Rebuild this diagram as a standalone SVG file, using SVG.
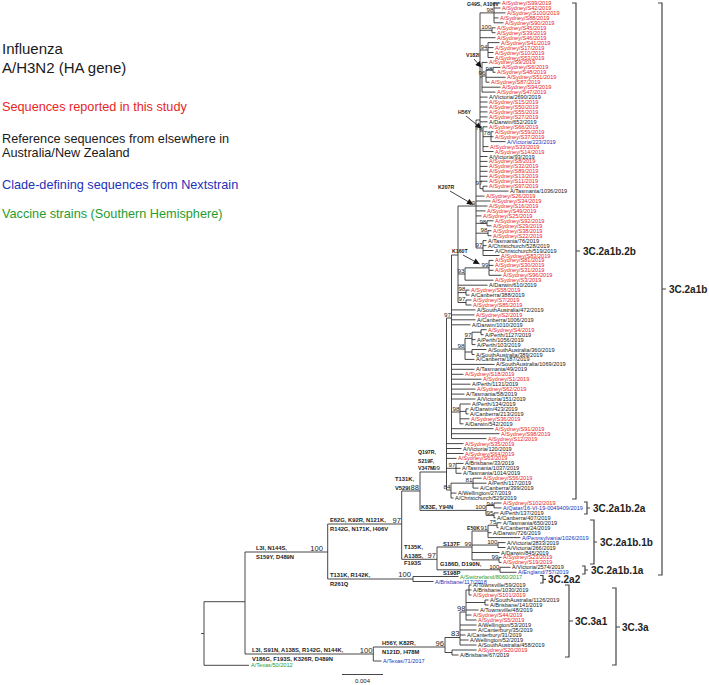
<svg xmlns="http://www.w3.org/2000/svg" width="709" height="685" viewBox="0 0 709 685">
<style>
text{font-family:"Liberation Sans",Arial,sans-serif}
.lf{font-size:5.6px}
.r{fill:#e8251f}.k{fill:#1a1a1a}.b{fill:#2332b8}.g{fill:#1f9c2e}
.bs{font-size:6.2px;text-anchor:end;fill:#222}
.bl{font-size:7.6px;text-anchor:end;fill:#222}
.mu{font-size:5.8px;font-weight:bold;fill:#222}
.ms{font-size:5.2px;font-weight:bold;fill:#222}
.cl{font-size:10px;font-weight:bold;fill:#222}
.tree{fill:none;stroke:#333;stroke-width:0.9}
.br{fill:none;stroke:#444;stroke-width:1.2}
.ar{fill:none;stroke:#111;stroke-width:0.8;marker-end:url(#ah)}
.lg{font-size:12.7px}
</style>
<defs>
<marker id="ah" viewBox="0 0 10 10" refX="10" refY="5" markerWidth="7" markerHeight="6" markerUnits="userSpaceOnUse" orient="auto"><path d="M0 0L10 5L0 10z" fill="#111"/></marker>
</defs>
<rect width="709" height="685" fill="#fff"/>

<g id="legend">
<text x="2" y="54" font-size="15" fill="#1a1a1a">Influenza</text>
<text x="2" y="72.5" font-size="15" fill="#1a1a1a">A/H3N2 (HA gene)</text>
<text class="lg" x="2" y="111" fill="#e8251f">Sequences reported in this study</text>
<text class="lg" x="2" y="142.5" fill="#1a1a1a">Reference sequences from elsewhere in</text>
<text class="lg" x="2" y="157" fill="#1a1a1a">Australia/New Zealand</text>
<text class="lg" x="2" y="189" fill="#2332b8">Clade-defining sequences from Nextstrain</text>
<text class="lg" x="2" y="218" fill="#1f9c2e">Vaccine strains (Southern Hemisphere)</text>
</g>

<g id="connectors" class="tree">
<path d="M494 3V22.8M494 3H500.5M494 8H500.5M494 12.9H505.5M494 17.9H498.5M494 22.8H503.5M492 27.8V32.7M492 27.8H495.5M492 32.7H495.5M488 42.6V57.5M488 42.6H499.5M488 47.6H493.5M488 52.5H493.5M488 57.5H493.5M493 67.4V72.3M493 67.4H500.5M493 72.3H495.5M486 69.85V82.2M486 69.85H493M486 77.3H505.5M486 82.2H489.5M482 62.4V92.1M482 62.4H487.5M482 76H486M482 87.2H500.5M482 92.1H495.5M491 131.7V141.6M491 131.7H493.5M491 136.7H493.5M491 141.6H505.5M483 126.8V151.5M483 126.8H487.5M483 136.65H491M483 146.6H488.5M483 151.5H493.5M483 186.2V191.1M483 186.2H487.5M483 191.1H508.5"/>
<path d="M480 12.9V188.65M480 12.9H494M480 30.25H492M480 37.7H495.5M480 50H488M480 77H482M480 97.1H487.5M480 102H487.5M480 107H487.5M480 111.9H487.5M480 116.9H487.5M480 121.8H487.5M480 131H483M480 156.5H487.5M480 161.4H487.5M480 166.4H487.5M480 171.3H487.5M480 176.3H487.5M480 181.2H487.5M480 188.65H483"/>
<path d="M487 220.8V225.8M487 220.8H493.5M487 225.8H491.5M488 230.7V235.7M488 230.7H491.5M488 235.7H491.5M483 240.6V255.5M483 240.6H486.5M483 245.6H486.5M483 250.5H493.5M483 255.5H499.5M476 120V248M476 120H480M476 196.1H484.5M476 201H490.5M476 206H487.5M476 210.9H485.5M476 215.9H481.5M476 223.3H487M476 233.2H488M476 248H483"/>
<path d="M489 260.4V275.3M489 260.4H493.5M489 265.4H493.5M489 270.3H493.5M489 275.3H501.5M465 267.85V280.2M465 267.85H489M465 280.2H493.5M466 290.1V295.1M466 290.1H469.5M466 295.1H469.5M466 300V305M466 300H471.5M466 305H471.5M458 206V302.5M458 206H476M458 274H465M458 285.2H487.5M458 292.6H466M458 302.5H466"/>
<path d="M481 329.7V334.7M481 329.7H486.5M481 334.7H483.5M472 332.2V344.6M472 332.2H481M472 339.6H475.5M472 344.6H475.5M472 349.5V354.5M472 349.5H486.5M472 354.5H474.5M465 338.4V359.4M465 338.4H472M465 352H472M465 359.4H474.5M466 408.9V413.9M466 408.9H468.5M466 413.9H468.5M460 404V423.8M460 404H470.5M460 411.4H466M460 418.8H469.5M460 423.8H463.5"/>
<path d="M451.5 255V438.6M451.5 255H458M451.5 309.9H475.5M451.5 314.9H474.5M451.5 319.8H475.5M451.5 324.8H470.5M451.5 349H465M451.5 364.4H494.5M451.5 369.3H474.5M451.5 374.3H463.5M451.5 379.2H481.5M451.5 384.2H470.5M451.5 389.1H475.5M451.5 394.1H464.5M451.5 399H475.5M451.5 412H460M451.5 428.7H493.5M451.5 433.7H499.5M451.5 438.6H486.5"/>
<path d="M456 463.4V473.3M456 463.4H463.5M456 468.3H460.5M456 473.3H461.5M473 478.2V488.1M473 478.2H481.5M473 483.2H486.5M473 488.1H478.5M451 483.15V498M451 483.15H473M451 493.1H456.5M451 498H453.5M446.5 318V490M446.5 318H451.5M446.5 443.6H463.5M446.5 448.5H461.5M446.5 453.5H463.5M446.5 458.4H456.5M446.5 468.3H456M446.5 490H451"/>
<path d="M494 503V507.9M494 503H501.5M494 507.9H501.5M494 512.9V517.8M494 512.9H498.5M494 517.8H495.5M486 505.45V515.35M486 505.45H494M486 515.35H494M420 472V510.4M420 472H446.5M420 510.4H486M401.7 491V559.3M401.7 491H420M401.7 559.3H437"/>
<path d="M497 522.8V527.7M497 522.8H501.5M497 527.7H498.5M488 525.25V537.6M488 525.25H497M488 532.7H491.5M488 537.6H520.5M498 542.6V547.5M498 542.6H505.5M498 547.5H505.5M499 557.4V562.4M499 557.4H501.5M499 562.4H501.5M472 531V559.9M472 531H488M472 545.05H498M472 552.5H499.5M472 559.9H499M500 567.3V572.3M500 567.3H510.5M500 572.3H516.5M437 547V569.8M437 547H472M437 569.8H500"/>
<path d="M413 576.5V581.5M413 576.5H458.5M413 581.5H433.5M327.7 524V579M327.7 524H401.7M327.7 579H413M245 552V654M245 552H327.7M245 654H373.3M204 601.7V665.3M204 601.7H245M204 665.3H249M201 633.5H204"/>
<path d="M469 585V595M469 585H471.5M469 590H471.5M469 595H471.5M485 600V605M485 600H488.5M485 605H488.5M466 590V620M466 590H469M466 602.5H485M466 610H478.5M466 615H471.5M466 620H476.5M460 612V645M460 612H466M460 625H476.5M460 630H476.5M460 635H465.5M460 640H468.5M460 645H476.5M452 650V655M452 650H476.5M452 655H458.5M445 637.5V652.5M445 637.5H460M445 652.5H452M373.3 647V661M373.3 647H445M373.3 661H381.5"/>
</g>

<g id="arrows">
<path class="ar" d="M474 59L481.5 67.5"/>
<path class="ar" d="M466 116L481.5 128.5"/>
<path class="ar" d="M450 191L473 204.5"/>
<path class="ar" d="M463 255L479.5 264"/>
</g>

<g id="mutations">
<text class="ms" x="467" y="5.5">G49S, A106V</text>
<text class="ms" x="466" y="57">V182I</text>
<text class="ms" x="458" y="114">H56Y</text>
<text class="ms" x="438" y="189">K207R</text>
<text class="ms" x="452" y="253">K160T</text>
<text class="ms" x="418" y="454">Q197R,</text>
<text class="ms" x="418" y="463">S219F,</text>
<text class="ms" x="418" y="470">V347M</text>
<text class="mu" x="395" y="481">T131K,</text>
<text class="mu" x="395" y="489.5">V529I</text>
<text class="mu" x="421" y="508.5">K83E, Y94N</text>
<text class="mu" x="330" y="522">E62G, K92R, N121K,</text>
<text class="mu" x="330" y="530.5">R142G, N171K, I406V</text>
<text class="ms" x="467" y="529.5">E50K</text>
<text class="mu" x="443" y="545.5">S137F</text>
<text class="mu" x="404" y="549">T135K,</text>
<text class="mu" x="404" y="557.5">A138S,</text>
<text class="mu" x="404" y="565">F193S</text>
<text class="mu" x="440" y="565.5">G186D, D190N,</text>
<text class="mu" x="443" y="574.5">S198P</text>
<text class="mu" x="330" y="577">T131K, R142K,</text>
<text class="mu" x="330" y="585.5">R261Q</text>
<text class="mu" x="256" y="550">L3I, N144S,</text>
<text class="mu" x="256" y="559">S159Y, D489N</text>
<text class="mu" x="382" y="645">H56Y, K82R,</text>
<text class="mu" x="382" y="653.5">N121D, I478M</text>
<text class="mu" x="252" y="651.5">L3I, S91N, A138S, R142G, N144K,</text>
<text class="mu" x="252" y="660.5">V186G, F193S, K326R, D489N</text>
</g>

<g id="support">
<text class="bs" x="493.5" y="12">98</text>
<text class="bs" x="491.5" y="29">100</text>
<text class="bs" x="487.5" y="48.8">94</text>
<text class="bs" x="492.5" y="70.5">98</text>
<text class="bs" x="485.5" y="74.8">96</text>
<text class="bs" x="482.5" y="129.8">73</text>
<text class="bs" x="490.5" y="135.4">78</text>
<text class="bs" x="482.5" y="185">97</text>
<text class="bs" x="475.5" y="204.8">99</text>
<text class="bs" x="486.3" y="224.2">98</text>
<text class="bs" x="487.5" y="232">98</text>
<text class="bs" x="482.5" y="246.8">97</text>
<text class="bs" x="488.5" y="266.6">99</text>
<text class="bs" x="464.5" y="272.8">93</text>
<text class="bs" x="465.5" y="291.4">98</text>
<text class="bs" x="465.5" y="301.3">97</text>
<text class="bs" x="451" y="316.8">97</text>
<text class="bs" x="471.5" y="337.2">97</text>
<text class="bs" x="464.5" y="347.8">98</text>
<text class="bs" x="459.5" y="410.8">98</text>
<text class="bs" x="455.5" y="467">97</text>
<text class="bs" x="440" y="470">99</text>
<text class="bs" x="472.5" y="482">81</text>
<text class="bs" x="450.5" y="488.8">84</text>
<text class="bl" x="419" y="489.8">88</text>
<text class="bs" x="493.5" y="505.5">94</text>
<text class="bs" x="493.5" y="514.8">95</text>
<text class="bs" x="485.5" y="509">100</text>
<text class="bl" x="401" y="522.5">97</text>
<text class="bs" x="487.5" y="529.5">91</text>
<text class="bs" x="496.5" y="524">75</text>
<text class="bs" x="497.5" y="543.8">100</text>
<text class="bs" x="471.5" y="545.5">99</text>
<text class="bl" x="436" y="557.5">97</text>
<text class="bs" x="498.5" y="558.7">99</text>
<text class="bs" x="499.5" y="568.6">100</text>
<text class="bl" x="411" y="577">100</text>
<text class="bl" x="323" y="550.5">100</text>
<text class="bl" x="372.5" y="652.5">100</text>
<text class="bl" x="444" y="645.5">96</text>
<text class="bl" x="459.5" y="636.3">83</text>
<text class="bl" x="465.5" y="610.5">98</text>
</g>

<g id="leaves" class="lf">
<g id="L001"><text class="r" x="502" y="5">A/Sydney/S99/2019</text></g>
<g id="L002"><text class="r" x="502" y="10">A/Sydney/S42/2019</text></g>
<g id="L003"><text class="r" x="507" y="14.9">A/Sydney/S100/2019</text></g>
<g id="L004"><text class="r" x="500" y="19.9">A/Sydney/S88/2019</text></g>
<g id="L005"><text class="r" x="505" y="24.8">A/Sydney/S90/2019</text></g>
<g id="L006"><text class="r" x="497" y="29.8">A/Sydney/S45/2019</text></g>
<g id="L007"><text class="r" x="497" y="34.7">A/Sydney/S39/2019</text></g>
<g id="L008"><text class="r" x="497" y="39.7">A/Sydney/S46/2019</text></g>
<g id="L009"><text class="r" x="501" y="44.6">A/Sydney/S41/2019</text></g>
<g id="L010"><text class="r" x="495" y="49.6">A/Sydney/S17/2019</text></g>
<g id="L011"><text class="r" x="495" y="54.5">A/Sydney/S10/2019</text></g>
<g id="L012"><text class="r" x="495" y="59.5">A/Sydney/S53/2019</text></g>
<g id="L013"><text class="r" x="489" y="64.4">A/Sydney/S9/2019</text></g>
<g id="L014"><text class="r" x="502" y="69.4">A/Sydney/S6/2019</text></g>
<g id="L015"><text class="r" x="497" y="74.3">A/Sydney/S48/2019</text></g>
<g id="L016"><text class="r" x="507" y="79.3">A/Sydney/S51/2019</text></g>
<g id="L017"><text class="r" x="491" y="84.2">A/Sydney/S87/2019</text></g>
<g id="L018"><text class="r" x="502" y="89.2">A/Sydney/S94/2019</text></g>
<g id="L019"><text class="r" x="497" y="94.1">A/Sydney/S47/2019</text></g>
<g id="L020"><text class="k" x="489" y="99.1">A/Victoria/2690/2019</text></g>
<g id="L021"><text class="r" x="489" y="104">A/Sydney/S15/2019</text></g>
<g id="L022"><text class="r" x="489" y="109">A/Sydney/S50/2019</text></g>
<g id="L023"><text class="r" x="489" y="113.9">A/Sydney/S55/2019</text></g>
<g id="L024"><text class="r" x="489" y="118.9">A/Sydney/S27/2019</text></g>
<g id="L025"><text class="k" x="489" y="123.8">A/Darwin/652/2019</text></g>
<g id="L026"><text class="r" x="489" y="128.8">A/Sydney/S66/2019</text></g>
<g id="L027"><text class="r" x="495" y="133.7">A/Sydney/S59/2019</text></g>
<g id="L028"><text class="r" x="495" y="138.7">A/Sydney/S37/2019</text></g>
<g id="L029"><text class="b" x="507" y="143.6">A/Victoria/223/2019</text></g>
<g id="L030"><text class="r" x="490" y="148.6">A/Sydney/S33/2019</text></g>
<g id="L031"><text class="r" x="495" y="153.5">A/Sydney/S14/2019</text></g>
<g id="L032"><text class="k" x="489" y="158.5">A/Victoria/93/2019</text></g>
<g id="L033"><text class="r" x="489" y="163.4">A/Sydney/S8/2019</text></g>
<g id="L034"><text class="r" x="489" y="168.4">A/Sydney/S32/2019</text></g>
<g id="L035"><text class="r" x="489" y="173.3">A/Sydney/S89/2019</text></g>
<g id="L036"><text class="r" x="489" y="178.3">A/Sydney/S13/2019</text></g>
<g id="L037"><text class="r" x="489" y="183.2">A/Sydney/S11/2019</text></g>
<g id="L038"><text class="r" x="489" y="188.2">A/Sydney/S97/2019</text></g>
<g id="L039"><text class="k" x="510" y="193.1">A/Tasmania/1036/2019</text></g>
<g id="L040"><text class="r" x="486" y="198.1">A/Sydney/S26/2019</text></g>
<g id="L041"><text class="r" x="492" y="203">A/Sydney/S34/2019</text></g>
<g id="L042"><text class="r" x="489" y="208">A/Sydney/S16/2019</text></g>
<g id="L043"><text class="r" x="487" y="212.9">A/Sydney/S49/2019</text></g>
<g id="L044"><text class="r" x="483" y="217.9">A/Sydney/S25/2019</text></g>
<g id="L045"><text class="r" x="495" y="222.8">A/Sydney/S92/2019</text></g>
<g id="L046"><text class="r" x="493" y="227.8">A/Sydney/S29/2019</text></g>
<g id="L047"><text class="r" x="493" y="232.7">A/Sydney/S38/2019</text></g>
<g id="L048"><text class="r" x="493" y="237.7">A/Sydney/S22/2019</text></g>
<g id="L049"><text class="k" x="488" y="242.6">A/Tasmania/76/2019</text></g>
<g id="L050"><text class="k" x="488" y="247.6">A/Christchurch/528/2019</text></g>
<g id="L051"><text class="k" x="495" y="252.5">A/Christchurch/519/2019</text></g>
<g id="L052"><text class="r" x="501" y="257.5">A/Sydney/S83/2019</text></g>
<g id="L053"><text class="r" x="495" y="262.4">A/Sydney/S81/2019</text></g>
<g id="L054"><text class="r" x="495" y="267.4">A/Sydney/S30/2019</text></g>
<g id="L055"><text class="r" x="495" y="272.3">A/Sydney/S31/2019</text></g>
<g id="L056"><text class="r" x="503" y="277.3">A/Sydney/S96/2019</text></g>
<g id="L057"><text class="r" x="495" y="282.2">A/Sydney/S3/2019</text></g>
<g id="L058"><text class="k" x="489" y="287.2">A/Darwin/610/2019</text></g>
<g id="L059"><text class="r" x="471" y="292.1">A/Sydney/S58/2019</text></g>
<g id="L060"><text class="k" x="471" y="297.1">A/Canberra/388/2019</text></g>
<g id="L061"><text class="r" x="473" y="302">A/Sydney/S7/2019</text></g>
<g id="L062"><text class="r" x="473" y="307">A/Sydney/S85/2019</text></g>
<g id="L063"><text class="k" x="477" y="311.9">A/SouthAustralia/472/2019</text></g>
<g id="L064"><text class="r" x="476" y="316.9">A/Sydney/S2/2019</text></g>
<g id="L065"><text class="k" x="477" y="321.8">A/Canberra/1006/2019</text></g>
<g id="L066"><text class="k" x="472" y="326.8">A/Darwin/1010/2019</text></g>
<g id="L067"><text class="r" x="488" y="331.7">A/Sydney/S4/2019</text></g>
<g id="L068"><text class="k" x="485" y="336.7">A/Perth/1127/2019</text></g>
<g id="L069"><text class="k" x="477" y="341.6">A/Perth/1056/2019</text></g>
<g id="L070"><text class="k" x="477" y="346.6">A/Perth/103/2019</text></g>
<g id="L071"><text class="k" x="488" y="351.5">A/SouthAustralia/360/2019</text></g>
<g id="L072"><text class="k" x="476" y="356.5">A/SouthAustralia/389/2019</text></g>
<g id="L073"><text class="k" x="476" y="361.4">A/Canberra/187/2019</text></g>
<g id="L074"><text class="k" x="496" y="366.4">A/SouthAustralia/1069/2019</text></g>
<g id="L075"><text class="k" x="476" y="371.3">A/Tasmania/49/2019</text></g>
<g id="L076"><text class="r" x="465" y="376.3">A/Sydney/S18/2019</text></g>
<g id="L077"><text class="r" x="483" y="381.2">A/Sydney/S1/2019</text></g>
<g id="L078"><text class="k" x="472" y="386.2">A/Perth/1131/2019</text></g>
<g id="L079"><text class="r" x="477" y="391.1">A/Sydney/S62/2019</text></g>
<g id="L080"><text class="k" x="466" y="396.1">A/Tasmania/58/2019</text></g>
<g id="L081"><text class="k" x="477" y="401">A/Victoria/151/2019</text></g>
<g id="L082"><text class="k" x="472" y="406">A/Perth/134/2019</text></g>
<g id="L083"><text class="k" x="470" y="410.9">A/Darwin/423/2019</text></g>
<g id="L084"><text class="k" x="470" y="415.9">A/Canberra/213/2019</text></g>
<g id="L085"><text class="r" x="471" y="420.8">A/Sydney/S36/2019</text></g>
<g id="L086"><text class="k" x="465" y="425.8">A/Darwin/542/2019</text></g>
<g id="L087"><text class="r" x="495" y="430.7">A/Sydney/S91/2019</text></g>
<g id="L088"><text class="r" x="501" y="435.7">A/Sydney/S98/2019</text></g>
<g id="L089"><text class="r" x="488" y="440.6">A/Sydney/S12/2019</text></g>
<g id="L090"><text class="r" x="465" y="445.6">A/Sydney/S35/2019</text></g>
<g id="L091"><text class="k" x="463" y="450.5">A/Victoria/120/2019</text></g>
<g id="L092"><text class="r" x="465" y="455.5">A/Sydney/S64/2019</text></g>
<g id="L093"><text class="r" x="458" y="460.4">A/Sydney/S63/2019</text></g>
<g id="L094"><text class="k" x="465" y="465.4">A/Brisbane/33/2019</text></g>
<g id="L095"><text class="k" x="462" y="470.3">A/Tasmania/1037/2019</text></g>
<g id="L096"><text class="k" x="463" y="475.3">A/Tasmania/1014/2019</text></g>
<g id="L097"><text class="r" x="483" y="480.2">A/Sydney/S56/2019</text></g>
<g id="L098"><text class="k" x="488" y="485.2">A/Perth/117/2019</text></g>
<g id="L099"><text class="k" x="480" y="490.1">A/Canberra/399/2019</text></g>
<g id="L100"><text class="k" x="458" y="495.1">A/Wellington/27/2019</text></g>
<g id="L101"><text class="k" x="455" y="500">A/Christchurch/529/2019</text></g>
<g id="L102"><text class="r" x="503" y="505">A/Sydney/S102/2019</text></g>
<g id="L103"><text class="b" x="503" y="509.9">A/Qatar/16-VI-19-0049409/2019</text></g>
<g id="L104"><text class="k" x="500" y="514.9">A/Perth/137/2019</text></g>
<g id="L105"><text class="k" x="497" y="519.8">A/Canberra/407/2019</text></g>
<g id="L106"><text class="k" x="503" y="524.8">A/Tasmania/650/2019</text></g>
<g id="L107"><text class="k" x="500" y="529.7">A/Canberra/24/2019</text></g>
<g id="L108"><text class="k" x="493" y="534.7">A/Darwin/726/2019</text></g>
<g id="L109"><text class="b" x="522" y="539.6">A/Pennsylvania/1026/2019</text></g>
<g id="L110"><text class="k" x="507" y="544.6">A/Victoria/2833/2019</text></g>
<g id="L111"><text class="k" x="507" y="549.5">A/Victoria/266/2019</text></g>
<g id="L112"><text class="k" x="501" y="554.5">A/Darwin/845/2019</text></g>
<g id="L113"><text class="r" x="503" y="559.4">A/Sydney/S23/2019</text></g>
<g id="L114"><text class="r" x="503" y="564.4">A/Sydney/S19/2019</text></g>
<g id="L115"><text class="k" x="512" y="569.3">A/Victoria/2574/2019</text></g>
<g id="L116"><text class="b" x="518" y="574.3">A/England/757/2019</text></g>
<g id="L117"><text class="g" x="460" y="578.5">A/Switzerland/8060/2017</text></g>
<g id="L118"><text class="b" x="435" y="583.5">A/Brisbane/117/2018</text></g>
<g id="L119"><text class="k" x="473" y="587">A/Townsville/59/2019</text></g>
<g id="L120"><text class="k" x="473" y="592">A/Brisbane/1030/2019</text></g>
<g id="L121"><text class="r" x="473" y="597">A/Sydney/S101/2019</text></g>
<g id="L122"><text class="k" x="490" y="602">A/SouthAustralia/1126/2019</text></g>
<g id="L123"><text class="k" x="490" y="607">A/Brisbane/141/2019</text></g>
<g id="L124"><text class="k" x="480" y="612">A/Townsville/48/2019</text></g>
<g id="L125"><text class="r" x="473" y="617">A/Sydney/S44/2019</text></g>
<g id="L126"><text class="r" x="478" y="622">A/Sydney/S5/2019</text></g>
<g id="L127"><text class="k" x="478" y="627">A/Wellington/53/2019</text></g>
<g id="L128"><text class="k" x="478" y="632">A/Canterbury/35/2019</text></g>
<g id="L129"><text class="k" x="467" y="637">A/Canterbury/31/2019</text></g>
<g id="L130"><text class="k" x="470" y="642">A/Wellington/52/2019</text></g>
<g id="L131"><text class="k" x="478" y="647">A/SouthAustralia/458/2019</text></g>
<g id="L132"><text class="r" x="478" y="652">A/Sydney/S20/2019</text></g>
<g id="L133"><text class="k" x="460" y="657">A/Brisbane/67/2019</text></g>
<g id="L134"><text class="b" x="383" y="663">A/Texas/71/2017</text></g>
<g id="L135"><text class="g" x="251" y="667.3">A/Texas/50/2012</text></g>
</g>

<g id="clades">
<g id="c2a1b2b"><path class="br" d="M572 3H576V499H572M576 251H580"/><text class="cl" x="583" y="254.5">3C.2a1b.2b</text></g>
<g id="c2a1b"><path class="br" d="M658 3H662V575H658M662 289H666"/><text class="cl" x="669" y="292.5">3C.2a1b</text></g>
<g id="c2a1b2a"><path class="br" d="M584 502H587V514H584M587 508H590"/><text class="cl" x="593" y="511.5">3C.2a1b.2a</text></g>
<g id="c2a1b1b"><path class="br" d="M590 520H594V564H590M594 542H597"/><text class="cl" x="600" y="545.5">3C.2a1b.1b</text></g>
<g id="c2a1b1a"><path class="br" d="M582 566H585V574H582M585 570H588"/><text class="cl" x="591" y="573.5">3C.2a1b.1a</text></g>
<g id="c2a2"><path class="br" d="M540 575.5H543V583H540M543 579.3H546"/><text class="cl" x="548" y="583">3C.2a2</text></g>
<g id="c3a1"><path class="br" d="M565 585H569V657H565M569 621H573"/><text class="cl" x="575" y="624.5">3C.3a1</text></g>
<g id="c3a"><path class="br" d="M612 588H616V665H612M616 627H620"/><text class="cl" x="622" y="630.5">3C.3a</text></g>
</g>

<g id="scale">
<path d="M342 674.5H383" stroke="#333" stroke-width="0.9"/>
<text x="362.5" y="683" font-size="6" text-anchor="middle" fill="#222">0.004</text>
</g>
</svg>
